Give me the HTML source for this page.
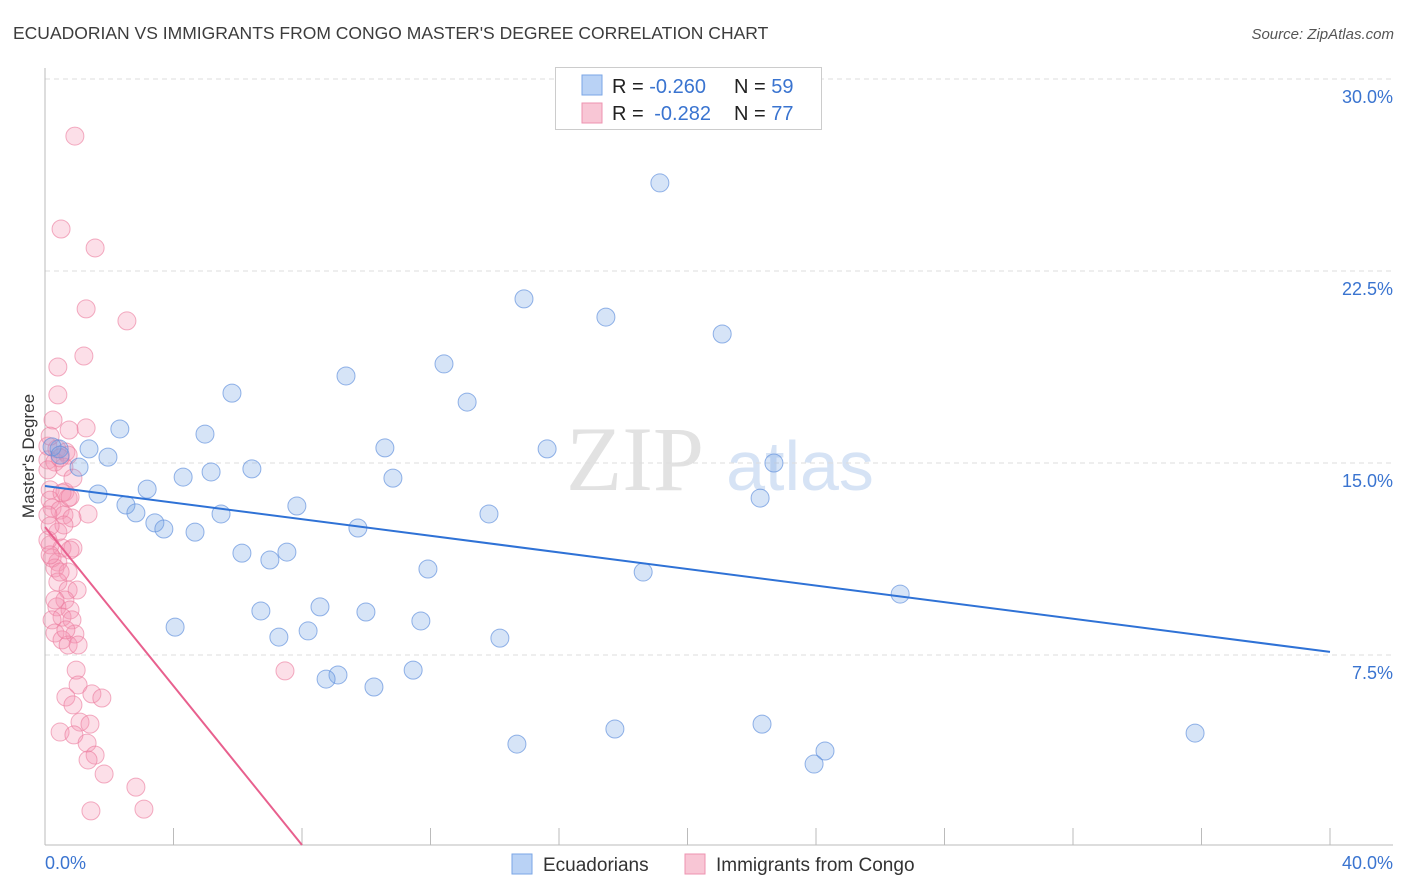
<!DOCTYPE html>
<html><head><meta charset="utf-8"><style>
body{margin:0;background:#fff;font-family:"Liberation Sans",sans-serif;}
svg{display:block}
</style></head><body>
<svg id="chart" width="1406" height="892" xmlns="http://www.w3.org/2000/svg">
<text x="13" y="39" font-size="17.5" fill="#3c3c3c" font-family="Liberation Sans, sans-serif">ECUADORIAN VS IMMIGRANTS FROM CONGO MASTER'S DEGREE CORRELATION CHART</text>
<text x="1394" y="39" font-size="15" fill="#555" text-anchor="end" font-style="italic">Source: ZipAtlas.com</text>
<g>
<text x="635" y="490" font-size="92" fill="#e2e2e2" font-family="Liberation Serif, serif" text-anchor="middle">ZIP</text>
<text x="800" y="490" font-size="70" fill="#d6e3f5" text-anchor="middle">atlas</text>
</g>
<g id="grid"></g>
<g id="axes"></g>
<g id="marks"></g>
<text transform="translate(34,456) rotate(-90)" font-size="17" fill="#333" text-anchor="middle">Master's Degree</text>
<g>
<rect x="555.5" y="67.5" width="266" height="62" fill="#fff" stroke="#ccc"/>
<rect x="582" y="75" width="20" height="20" fill="#b9d2f5" stroke="#7aa6e6"/>
<rect x="582" y="103" width="20" height="20" fill="#f8c6d5" stroke="#ee93b0"/>
<text x="612" y="93" font-size="20" fill="#222">R = <tspan fill="#3a74d0">-0.260</tspan><tspan x="734">N = </tspan><tspan fill="#3a74d0">59</tspan></text>
<text x="612" y="120" font-size="20" fill="#222">R = <tspan fill="#3a74d0" dx="5">-0.282</tspan><tspan x="734">N = </tspan><tspan fill="#3a74d0">77</tspan></text>
</g>
<g>
<rect x="512" y="854" width="20" height="20" fill="#b9d2f5" stroke="#7aa6e6"/>
<text x="543" y="871" font-size="19" fill="#333">Ecuadorians</text>
<rect x="685" y="854" width="20" height="20" fill="#f8c6d5" stroke="#ee93b0"/>
<text x="716" y="871" font-size="19" fill="#333">Immigrants from Congo</text>
</g>
</svg>
<script>
const blueX=[19.14,14.91,17.46,21.08,12.42,9.37,5.82,13.14,2.33,4.98,10.58,15.63,1.37,0.44,0.22,1.96,22.69,1.06,6.44,5.17,4.30,10.83,22.26,1.65,3.18,7.84,2.52,2.83,13.82,5.48,3.42,3.70,9.74,4.67,6.13,7.53,7.00,11.92,18.62,26.62,8.56,6.72,9.99,4.05,11.70,8.19,7.28,14.16,11.46,9.12,8.75,10.24,22.32,17.74,35.80,14.69,24.28,23.94,0.47];
const blueY=[25.94,21.41,20.70,20.04,18.87,18.40,17.73,17.38,16.33,16.13,15.59,15.55,15.55,15.55,15.63,15.23,15.0,14.84,14.77,14.65,14.45,14.41,13.63,13.79,13.98,13.32,13.36,13.05,13.01,13.01,12.66,12.42,12.46,12.30,11.48,11.52,11.21,10.86,10.74,9.88,9.38,9.22,9.18,8.59,8.83,8.44,8.20,8.16,6.91,6.72,6.56,6.25,4.80,4.61,4.45,4.02,3.75,3.24,15.31];
const pinkX=[0.93,0.50,1.56,1.28,2.55,1.21,0.40,0.40,0.25,0.75,1.28,0.09,0.37,0.65,0.09,0.31,0.72,0.59,0.16,0.62,0.72,0.16,0.22,0.47,0.59,1.34,0.84,0.09,0.40,0.16,0.53,0.87,0.22,0.40,0.78,0.31,0.72,0.40,0.72,1.00,0.62,0.37,0.78,0.53,0.22,0.84,0.93,0.31,0.53,0.72,1.03,0.97,1.03,0.65,1.46,1.77,0.87,1.09,1.40,0.47,0.90,1.31,1.56,1.34,1.84,2.83,1.43,3.08,7.47,0.16,0.09,0.47,0.87,0.53,0.78,0.59,0.16,0.09,0.16,0.47,0.31,0.65];
const pinkY=[27.77,24.14,23.40,21.02,20.55,19.18,18.75,17.66,16.68,16.29,16.37,15.66,15.55,15.43,15.12,15.04,15.31,14.84,13.95,13.87,13.63,13.55,13.24,13.16,12.97,13.01,12.85,12.97,12.30,11.80,11.68,11.68,11.29,11.13,11.60,10.90,10.74,10.35,10.04,10.04,9.65,9.38,9.26,8.98,8.87,8.87,8.32,8.36,8.09,7.89,7.89,6.91,6.33,5.86,5.98,5.82,5.55,4.88,4.80,4.49,4.38,4.06,3.59,3.40,2.85,2.34,1.41,1.48,6.88,16.05,14.73,15.20,14.41,13.83,13.67,12.58,12.54,11.99,11.41,10.74,9.65,8.48];
const yTicks=[7.5,15,22.5,30];
const yTickLabels=["7.5%","15.0%","22.5%","30.0%"];
const xTicks=[0,4,8,12,16,20,24,28,32,36,40];
const xTickLabels=["0.0%","40.0%"];
const blueTrend=[14.10,7.62];   // y at x=0, y at x=40
const pinkTrend=[12.5,0.08,8.0]; // y at x=0, y at end, end x

const NS="http://www.w3.org/2000/svg";
const X=v=>45+v*1285/40;
const Y=v=>847-v*25.6;
function mk(parent,tag,attrs){const e=document.createElementNS(NS,tag);for(const k in attrs)e.setAttribute(k,attrs[k]);document.getElementById(parent).appendChild(e);return e;}
yTicks.forEach((t,i)=>{
  const g=mk('grid','line',{x1:45,x2:1393,y1:Y(t),y2:Y(t),stroke:'#ddd','stroke-dasharray':'5,4'});
  
  
  const l=mk('grid','text',{x:1393,y:Y(t)+24,'font-size':18,fill:'#3a74d0','text-anchor':'end'});
  
  
  l.textContent=yTickLabels[i];
});
const ya=mk('axes','line',{x1:45,x2:45,y1:68,y2:845,stroke:'#bbb'});


const xa=mk('axes','line',{x1:45,x2:1393,y1:845,y2:845,stroke:'#bbb'});


xTicks.slice(1).forEach(t=>{
  const tk=mk('axes','line',{x1:X(t),x2:X(t),y1:828,y2:845,stroke:'#bbb'});
  
  
});
const xl0=mk('axes','text',{x:45,y:869,'font-size':18,fill:'#3a74d0'});


xl0.textContent=xTickLabels[0];
const xl1=mk('axes','text',{x:1393,y:869,'font-size':18,fill:'#3a74d0','text-anchor':'end'});


xl1.textContent=xTickLabels[1];
pinkX.forEach((x,i)=>{
  const c=mk('marks','circle',{cx:X(x),cy:Y(pinkY[i]),r:9,fill:'rgba(244,150,180,0.3)',stroke:'rgba(235,120,155,0.6)','stroke-width':1});
  
  
});
blueX.forEach((x,i)=>{
  const c=mk('marks','circle',{cx:X(x),cy:Y(blueY[i]),r:9,fill:'rgba(120,165,230,0.3)',stroke:'rgba(90,140,220,0.65)','stroke-width':1});
  
  
});
const bt=mk('marks','line',{x1:X(0),y1:Y(blueTrend[0]),x2:X(40),y2:Y(blueTrend[1]),stroke:'#2f72d6','stroke-width':2});


const pt=mk('marks','line',{x1:X(0),y1:Y(pinkTrend[0]),x2:X(pinkTrend[2]),y2:Y(pinkTrend[1]),stroke:'#e8608e','stroke-width':2});


</script>
</body></html>
